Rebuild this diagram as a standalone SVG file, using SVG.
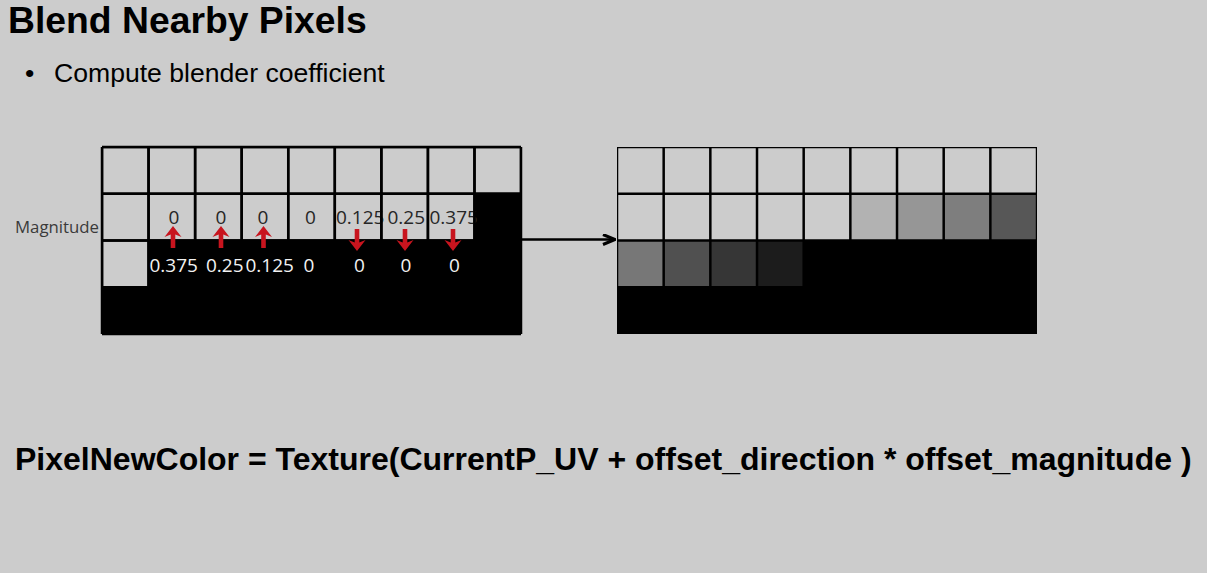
<svg xmlns="http://www.w3.org/2000/svg" xmlns:xlink="http://www.w3.org/1999/xlink" width="1207" height="573" viewBox="0 0 1207 573">
<style>
.title{font-family:"Liberation Sans",Arial,sans-serif;font-weight:bold;font-size:37.3px;fill:#000}
.bullet{font-family:"Liberation Sans",Arial,sans-serif;font-size:26.6px;fill:#000}
.formula{font-family:"Liberation Sans",Arial,sans-serif;font-weight:bold;font-size:32px;fill:#000}
.mag{font-family:"Open Sans","DejaVu Sans",sans-serif;font-size:16px;fill:#3a3a3a}
.num{font-family:"Open Sans","DejaVu Sans",sans-serif;font-size:19px}
.dk{fill:#262626}
.wt{fill:#f2f2f2}
.grid{stroke:#000;stroke-width:2.5;fill:none}
.cell{fill:#cccccc}
.red{fill:#c8141e}
</style>
<defs>
<path id="up" d="M0,0 L8.5,11 L2.3,8.5 L2.3,22 L-2.3,22 L-2.3,8.5 L-8.5,11 Z"/>
<path id="down" d="M-2.3,0 L2.3,0 L2.3,13.5 L8.5,11 L0,22 L-8.5,11 L-2.3,13.5 Z"/>
<marker id="chev" viewBox="0 0 14 12" refX="13" refY="6" markerWidth="14" markerHeight="12" markerUnits="userSpaceOnUse" orient="auto">
<path d="M1,1 L13,6 L1,11" fill="none" stroke="#000" stroke-width="3"/>
</marker>
</defs>
<rect x="0" y="0" width="1207" height="573" fill="#cccccc"/>
<g id="title"><text class="title" x="8" y="33">Blend Nearby Pixels</text></g>
<g id="bullet"><text class="bullet" x="25" y="82" font-size="20">•</text><text class="bullet" x="54" y="82">Compute blender coefficient</text></g>

<g id="left-grid">
<rect x="102" y="147" width="419" height="187" fill="#000"/>
<g class="cell">
<rect x="103.25" y="148.25" width="44.06" height="44.25"/>
<rect x="149.81" y="148.25" width="44.06" height="44.25"/>
<rect x="196.37" y="148.25" width="44.06" height="44.25"/>
<rect x="242.93" y="148.25" width="44.06" height="44.25"/>
<rect x="289.49" y="148.25" width="44.06" height="44.25"/>
<rect x="336.05" y="148.25" width="44.06" height="44.25"/>
<rect x="382.61" y="148.25" width="44.06" height="44.25"/>
<rect x="429.17" y="148.25" width="44.06" height="44.25"/>
<rect x="475.73" y="148.25" width="44.06" height="44.25"/>
<rect x="103.25" y="195" width="44.06" height="44.25"/>
<rect x="149.81" y="195" width="44.06" height="44.25"/>
<rect x="196.37" y="195" width="44.06" height="44.25"/>
<rect x="242.93" y="195" width="44.06" height="44.25"/>
<rect x="289.49" y="195" width="44.06" height="44.25"/>
<rect x="336.05" y="195" width="44.06" height="44.25"/>
<rect x="382.61" y="195" width="44.06" height="44.25"/>
<rect x="429.17" y="195" width="44.06" height="44.25"/>
<rect x="103.25" y="241.75" width="44.06" height="44.25"/>
</g>
<text class="mag" x="15" y="233" textLength="84" lengthAdjust="spacingAndGlyphs">Magnitude</text>
<g class="num dk" text-anchor="middle">
<text x="174" y="223.5">0</text>
<text x="221" y="223.5">0</text>
<text x="263" y="223.5">0</text>
<text x="310.5" y="223.5">0</text>
</g>
<g class="num dk">
<text x="336" y="223.5">0.125</text>
<text x="387.5" y="223.5">0.25</text>
<text x="429.5" y="223.5">0.375</text>
</g>
<g class="grid">
<path d="M102,147H521M102,193.75H521M102,240.5H521M102,287.25H521M102,334H521"/>
<path d="M102,147V334M148.56,147V334M195.12,147V334M241.68,147V334M288.24,147V334M334.8,147V334M381.36,147V334M427.92,147V334M474.48,147V334M521,147V334"/>
</g>
<g class="num wt">
<text x="149.5" y="271.5">0.375</text>
<text x="206" y="271.5">0.25</text>
<text x="245.5" y="271.5">0.125</text>
</g>
<g class="num wt" text-anchor="middle">
<text x="309" y="271.5">0</text>
<text x="359.5" y="271.5">0</text>
<text x="406" y="271.5">0</text>
<text x="454.5" y="271.5">0</text>
</g>
<g class="red">
<use xlink:href="#up" x="173" y="226"/>
<use xlink:href="#up" x="221" y="226"/>
<use xlink:href="#up" x="263.5" y="226"/>
<use xlink:href="#down" x="357" y="229"/>
<use xlink:href="#down" x="405" y="229"/>
<use xlink:href="#down" x="453" y="229"/>
</g>
</g>

<g id="right-grid">
<rect x="617" y="147" width="420" height="187" fill="#000"/>
<g class="cell">
<rect x="618.25" y="148.25" width="44.17" height="44.25"/>
<rect x="664.92" y="148.25" width="44.17" height="44.25"/>
<rect x="711.59" y="148.25" width="44.17" height="44.25"/>
<rect x="758.26" y="148.25" width="44.17" height="44.25"/>
<rect x="804.93" y="148.25" width="44.17" height="44.25"/>
<rect x="851.6" y="148.25" width="44.17" height="44.25"/>
<rect x="898.27" y="148.25" width="44.17" height="44.25"/>
<rect x="944.94" y="148.25" width="44.17" height="44.25"/>
<rect x="991.61" y="148.25" width="44.17" height="44.25"/>
<rect x="618.25" y="195" width="44.17" height="44.25"/>
<rect x="664.92" y="195" width="44.17" height="44.25"/>
<rect x="711.59" y="195" width="44.17" height="44.25"/>
<rect x="758.26" y="195" width="44.17" height="44.25"/>
<rect x="804.93" y="195" width="44.17" height="44.25"/>
</g>
<rect x="851.6" y="195" width="44.17" height="44.25" fill="#b2b2b2"/>
<rect x="898.27" y="195" width="44.17" height="44.25" fill="#969696"/>
<rect x="944.94" y="195" width="44.17" height="44.25" fill="#7e7e7e"/>
<rect x="991.61" y="195" width="44.17" height="44.25" fill="#575757"/>
<rect x="618.25" y="241.75" width="44.17" height="44.25" fill="#777777"/>
<rect x="664.92" y="241.75" width="44.17" height="44.25" fill="#505050"/>
<rect x="711.59" y="241.75" width="44.17" height="44.25" fill="#363636"/>
<rect x="758.26" y="241.75" width="44.17" height="44.25" fill="#1c1c1c"/>
</g>

<g id="connectors">
<line x1="521" y1="239.5" x2="615" y2="239.5" stroke="#000" stroke-width="2.5" marker-end="url(#chev)"/>
</g>

<g id="formula"><text class="formula" x="15" y="470">PixelNewColor = Texture(CurrentP_UV + offset_direction * offset_magnitude )</text></g>
</svg>
